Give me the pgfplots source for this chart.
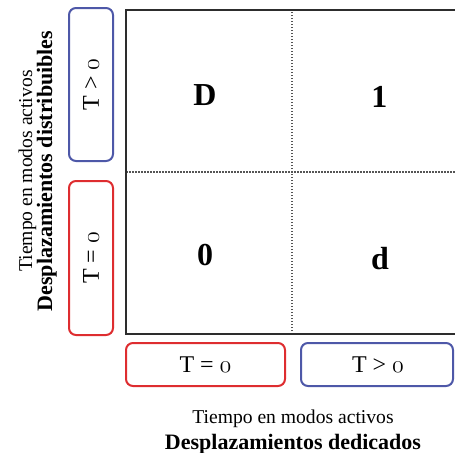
\documentclass[border=0pt]{standalone}
\usepackage{fontspec}
\setmainfont{Liberation Serif}
\usepackage{pgfplots}
\pgfplotsset{compat=1.18}
\usepackage{pgfplotstable}
\definecolor{boxred}{RGB}{222,45,48}
\definecolor{boxblue}{RGB}{78,88,168}
\definecolor{framec}{RGB}{45,45,45}
\definecolor{dotc}{RGB}{85,85,85}
\newcommand\osz{{\usefont{OML}{cmm}{m}{it}0}}

\pgfplotstableread{
x y label
0.476 1.472 D
1.527 1.466 1
0.476 0.485 0
1.530 0.466 d
}\cells

\begin{document}
\begin{tikzpicture}[x=0.5pt,y=0.5pt]
\useasboundingbox (0,0) rectangle (455,452);
\clip (0,0) rectangle (455,452);
\begin{axis}[
  at={(63pt,59pt)}, anchor=south west,
  scale only axis, width=166pt, height=162pt,
  xmin=0, xmax=2, ymin=0, ymax=2,
  xtick={1}, ytick={1}, xticklabels={}, yticklabels={},
  major tick length=0pt,
  grid=major,
  major grid style={dotc, line width=0.75pt, dash pattern=on 0.75pt off 0.75pt},
  axis line style={framec, line width=1pt},
  clip=false,
]
\addplot[only marks, mark=*, mark options={draw=none, fill=none}, mark size=0pt,
  nodes near coords, point meta=explicit symbolic,
  nodes near coords align={center},
  every node near coord/.append style={font=\fontsize{16}{18}\selectfont\bfseries, text=black, inner sep=0pt}]
  table[meta=label] {\cells};
\end{axis}
\begin{scope}[line width=1pt, rounded corners=3.5pt]
\draw[boxblue] (69,444) rectangle (113,291);
\draw[boxred] (69,271) rectangle (113,117);
\draw[boxred] (126,109) rectangle (285,66);
\draw[boxblue] (301,109) rectangle (453,66);
\end{scope}
\begin{scope}[every node/.style={font=\fontsize{12}{14}\selectfont, inner sep=0pt}]
\node[rotate=90] at (91,367.5) {T > \osz};
\node[rotate=90] at (91,194) {T = \osz};
\node at (205.5,87.5) {T = \osz};
\node at (378,87.5) {T > \osz};
\end{scope}
\node[anchor=base, inner sep=0pt, font=\fontsize{9.8}{12}\selectfont] at (293,29) {Tiempo en modos activos};
\node[anchor=base, inner sep=0pt, font=\fontsize{11}{12}\selectfont\bfseries] at (293,2.5) {Desplazamientos dedicados};
\node[anchor=base, inner sep=0pt, rotate=90, font=\fontsize{9.8}{12}\selectfont] at (32,281) {Tiempo en modos activos};
\node[anchor=base, inner sep=0pt, rotate=90, font=\fontsize{11}{12}\selectfont\bfseries] at (52,281) {Desplazamientos distribuibles};
\end{tikzpicture}
\end{document}
